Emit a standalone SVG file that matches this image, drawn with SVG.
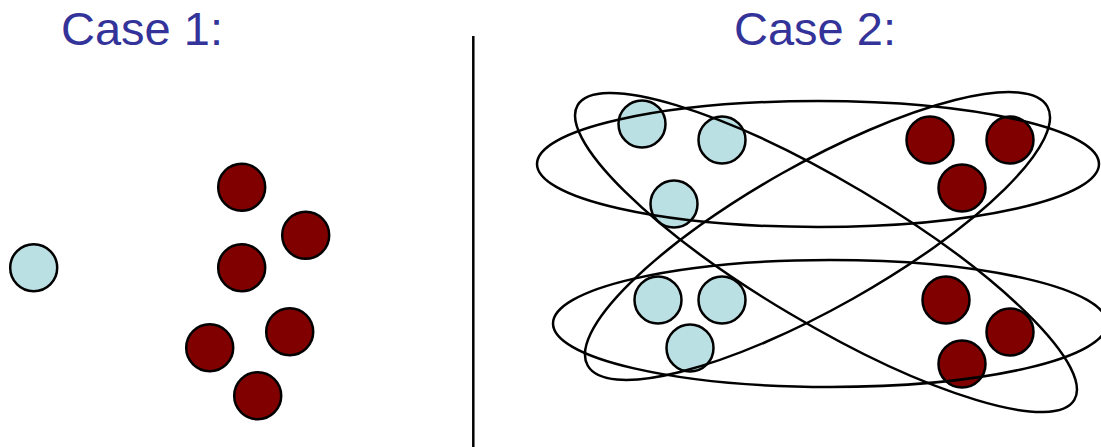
<svg xmlns="http://www.w3.org/2000/svg" width="1101" height="447" viewBox="0 0 1101 447">
<style>
.t{font-family:"Liberation Sans",Arial,sans-serif;font-size:47px;fill:#333399}
.c{fill:#BBE0E3;stroke:#000;stroke-width:2.5}
.r{fill:#800000;stroke:#000;stroke-width:2.5}
.e{fill:none;stroke:#000;stroke-width:2.5}
</style>
<rect width="1101" height="447" fill="#fff"/>
<g id="titles">
<text class="t" x="61" y="45">Case 1:</text>
<text class="t" x="734" y="45">Case 2:</text>
</g>
<line x1="473.3" y1="36" x2="473.3" y2="447" stroke="#000" stroke-width="2.5"/>
<g id="case1">
<circle class="c" cx="33.7" cy="267.7" r="23.5"/>
<circle class="r" cx="241.7" cy="187.3" r="23.5"/>
<circle class="r" cx="305.7" cy="235.3" r="23.5"/>
<circle class="r" cx="241.7" cy="267.7" r="23.5"/>
<circle class="r" cx="289.7" cy="331.7" r="23.5"/>
<circle class="r" cx="209.7" cy="347.7" r="23.5"/>
<circle class="r" cx="257.7" cy="395.7" r="23.5"/>
</g>
<g id="case2-points">
<circle class="c" cx="642" cy="124" r="23.5"/>
<circle class="c" cx="722" cy="140" r="23.5"/>
<circle class="c" cx="674" cy="204" r="23.5"/>
<circle class="c" cx="658" cy="300" r="23.5"/>
<circle class="c" cx="722" cy="300" r="23.5"/>
<circle class="c" cx="690" cy="348" r="23.5"/>
<circle class="r" cx="930" cy="140" r="23.5"/>
<circle class="r" cx="1010" cy="140" r="23.5"/>
<circle class="r" cx="962" cy="188" r="23.5"/>
<circle class="r" cx="946" cy="300" r="23.5"/>
<circle class="r" cx="1010" cy="332" r="23.5"/>
<circle class="r" cx="962" cy="364" r="23.5"/>
</g>
<g id="case2-groups">
<ellipse class="e" cx="818" cy="164" rx="281" ry="63"/>
<ellipse class="e" cx="830" cy="323.5" rx="277" ry="63.5"/>
<ellipse class="e" cx="0" cy="0" rx="288.8" ry="71" transform="translate(826 252.5) rotate(30.7)"/>
<ellipse class="e" cx="0" cy="0" rx="263.8" ry="72" transform="translate(817.5 236) rotate(-29.4)"/>
</g>
</svg>
